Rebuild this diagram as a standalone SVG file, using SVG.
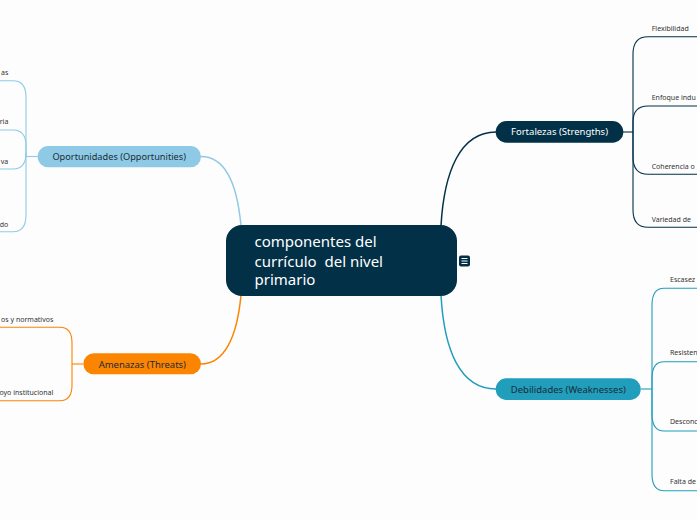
<svg xmlns="http://www.w3.org/2000/svg" width="697" height="520" viewBox="0 0 697 520">
<style>
.bg{fill:#fdfdfd}
.conn{fill:none;stroke-width:1.5;stroke-linecap:round}
.br{fill:none;stroke-width:1.1}
.navy{stroke:#023047}
.teal{stroke:#219ebc}
.sky{stroke:#8ecae6}
.orange{stroke:#fb8500}
.lbl{font-family:"Noto Sans","DejaVu Sans",sans-serif;font-size:7px;fill:#333333}
.nt{font-family:"Noto Sans","DejaVu Sans",sans-serif;font-size:9.5px;text-anchor:middle}
.ct{font-family:"Noto Sans","DejaVu Sans",sans-serif;font-size:15px;fill:#ffffff}
</style>
<rect class="bg" x="0" y="0" width="697" height="520"/>

<g id="connectors">
  <path class="conn navy" d="M441 226 C444 172 460 132 496 132"/>
  <path class="conn teal" d="M441 295 C444 350 460 389 496 389"/>
  <path class="conn sky" d="M201 156.5 C224 156.5 237 182 241 226"/>
  <path class="conn orange" d="M201 364 C224 364 237 338 241 295"/>

  <!-- Fortalezas brackets -->
  <path class="br navy" d="M623 132 H633"/>
  <path class="br navy" d="M633 132 V54 C633 42 638 36.7 648 36.7 H697"/>
  <path class="br navy" d="M633 132 V122 C633 112 638 106 648 106 H697"/>
  <path class="br navy" d="M633 132 V157 C633 168 638 174.3 648 174.3 H697"/>
  <path class="br navy" d="M633 132 V210 C633 221 638 227.3 648 227.3 H697"/>

  <!-- Debilidades brackets -->
  <path class="br teal" d="M641 389 H652"/>
  <path class="br teal" d="M652 389 V305 C652 294 656 288.3 664 288.3 H697"/>
  <path class="br teal" d="M652 389 V378 C652 368 656 361.7 664 361.7 H697"/>
  <path class="br teal" d="M652 389 V414 C652 425 656 431 664 431 H697"/>
  <path class="br teal" d="M652 389 V474 C652 485 656 490.7 664 490.7 H697"/>

  <!-- Oportunidades brackets -->
  <path class="br sky" d="M37.7 156.5 H26"/>
  <path class="br sky" d="M26 156.5 V97 C26 86 22 80.7 13 80.7 H0"/>
  <path class="br sky" d="M26 156.5 V146 C26 136 22 130 13 130 H0"/>
  <path class="br sky" d="M26 156.5 V153 C26 163 22 169 13 169 H0"/>
  <path class="br sky" d="M26 156.5 V215 C26 226 22 231.7 13 231.7 H0"/>

  <!-- Amenazas brackets -->
  <path class="br orange" d="M83 364 H72"/>
  <path class="br orange" d="M72 364 V343 C72 332 68 327.3 60 327.3 H0"/>
  <path class="br orange" d="M72 364 V385 C72 396 68 400.7 60 400.7 H0"/>
</g>

<g id="center">
  <rect x="226" y="225" width="231" height="71" rx="16" fill="#023047"/>
  <text class="ct" x="254.5" y="247.3">componentes del</text>
  <text class="ct" x="254.5" y="266.5" xml:space="preserve">currículo  del nivel</text>
  <text class="ct" x="254.5" y="285.3">primario</text>
  <rect x="459" y="255.5" width="11" height="11" rx="2" fill="#023047"/>
  <path d="M461.5 258.5 H467.5 M461.5 261 H467.5 M461.5 263.5 H467.5" stroke="#ffffff" stroke-width="1"/>
</g>

<g id="fortalezas">
  <rect x="495.7" y="121" width="127.6" height="21.7" rx="10.8" fill="#023047"/>
  <text class="nt" x="559.5" y="135.3" fill="#ffffff" textLength="97" lengthAdjust="spacingAndGlyphs">Fortalezas (Strengths)</text>
</g>
<g id="debilidades">
  <rect x="495.7" y="378.3" width="145" height="21.7" rx="10.8" fill="#219ebc"/>
  <text class="nt" x="568.3" y="392.5" fill="#1c2b36" textLength="115" lengthAdjust="spacingAndGlyphs">Debilidades (Weaknesses)</text>
</g>
<g id="oportunidades">
  <rect x="37.7" y="146" width="163.3" height="21.3" rx="10.6" fill="#8ecae6"/>
  <text class="nt" x="119.2" y="160" fill="#1c2b36" textLength="133.5" lengthAdjust="spacingAndGlyphs">Oportunidades (Opportunities)</text>
</g>
<g id="amenazas">
  <rect x="83.3" y="353.3" width="117.7" height="21" rx="10.5" fill="#fb8500"/>
  <text class="nt" x="142.3" y="367.5" fill="#1c2b36" textLength="87.3" lengthAdjust="spacingAndGlyphs">Amenazas (Threats)</text>
</g>

<g id="fortalezas-children">
  <text class="lbl" x="651.7" y="30.7">Flexibilidad</text>
  <text class="lbl" x="651.7" y="100">Enfoque indu</text>
  <text class="lbl" x="651.7" y="169">Coherencia o</text>
  <text class="lbl" x="651.7" y="222.3">Variedad de</text>
</g>
<g id="debilidades-children">
  <text class="lbl" x="670" y="281.7">Escasez</text>
  <text class="lbl" x="670" y="355">Resisten</text>
  <text class="lbl" x="670" y="424.3">Desconc</text>
  <text class="lbl" x="670" y="484.3">Falta de</text>
</g>
<g id="oportunidades-children">
  <text class="lbl" x="8.3" y="75" text-anchor="end">as</text>
  <text class="lbl" x="8.3" y="124.3" text-anchor="end">ria</text>
  <text class="lbl" x="8.3" y="164" text-anchor="end">va</text>
  <text class="lbl" x="8.3" y="226.7" text-anchor="end">do</text>
</g>
<g id="amenazas-children">
  <text class="lbl" x="53.3" y="322.3" text-anchor="end">os y normativos</text>
  <text class="lbl" x="53.3" y="395.3" text-anchor="end">oyo institucional</text>
</g>
</svg>
